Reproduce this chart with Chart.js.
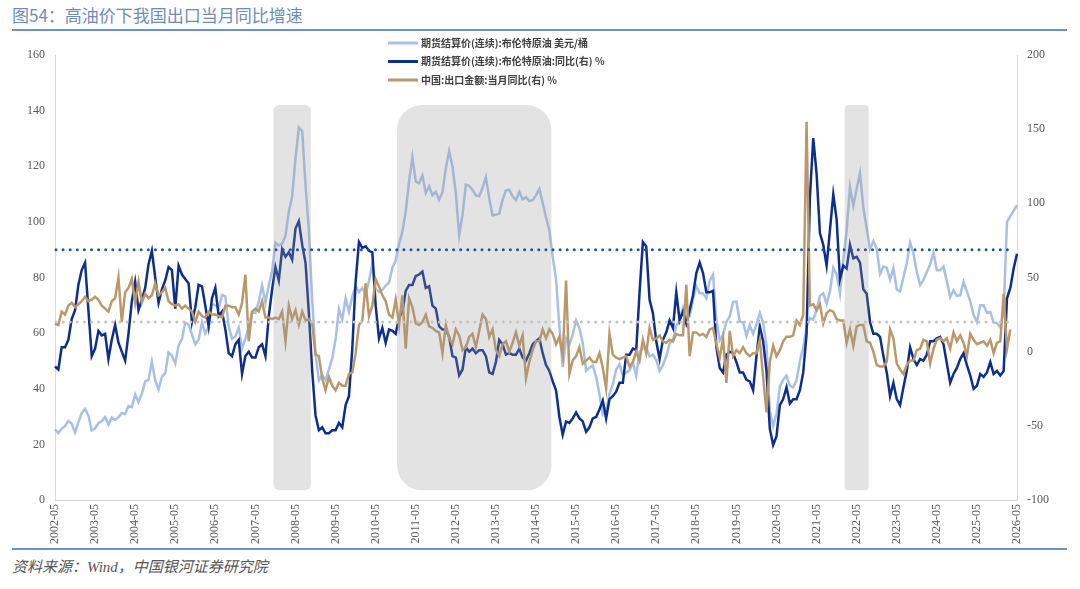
<!DOCTYPE html>
<html>
<head>
<meta charset="utf-8">
<title>图54 高油价下我国出口当月同比增速</title>
<script src="https://cdn.jsdelivr.net/npm/chart.js@4.4.1/dist/chart.umd.min.js"></script>
<style>
    body { margin: 0; background: #fff; width: 1080px; height: 589px; position: relative; overflow: hidden; font-family: "Noto Sans CJK SC", sans-serif; }
    #title { position: absolute; left: 12px; top: 4px; font-size: 17px; line-height: 22px; color: #6f8bbf; }
    .rule { position: absolute; left: 12px; width: 1055px; height: 2px; background: #6f8fc8; }
    #chartBox { position: absolute; left: 0; top: 35px; width: 1080px; height: 513px; }
    #source { position: absolute; left: 12px; top: 556px; font-size: 15px; line-height: 22px; font-style: italic; color: #555; font-family: "Liberation Serif", "Noto Sans CJK SC", serif; }
</style>
</head>
<body>
<div id="title">图54：高油价下我国出口当月同比增速</div>
<div class="rule" style="top:29px"></div>
<div id="chartBox"><canvas id="canvas" width="1080" height="513"></canvas></div>
<div class="rule" style="top:548px"></div>
<div id="source">资料来源：Wind，中国银河证券研究院</div>

<script>
// monthly categories 2002-05 .. 2026-05
var firstYear = 2002, firstMonth = 5, monthCount = 289;
var months = [];
for (var k = 0; k < monthCount; k++) {
    var m = firstMonth - 1 + k;
    var mm = m % 12 + 1;
    months.push((firstYear + Math.floor(m / 12)) + '-' + (mm < 10 ? '0' + mm : mm));
}

var seriesNames = [
    '期货结算价(连续):布伦特原油 美元/桶',
    '期货结算价(连续):布伦特原油:同比(右) %',
    '中国:出口金额:当月同比(右) %'
];

// 布伦特原油 美元/桶 (left axis)
var brentPrice = [
    25.4, 24.1, 25.7, 26.6, 28.4, 27.5, 24.3, 28.0,                       // 2002 May-Dec
    31.2, 32.8, 30.3, 25.0, 25.8, 27.6, 28.4, 29.8, 27.1, 29.6, 28.8, 29.8, // 2003
    31.3, 30.9, 33.8, 33.4, 37.9, 35.2, 38.2, 42.7, 43.2, 49.8, 43.1, 39.7, // 2004
    44.3, 45.6, 53.1, 51.9, 49.0, 55.6, 57.9, 63.8, 63.0, 59.5, 56.0, 57.6, // 2005
    63.9, 59.9, 62.3, 70.4, 70.0, 69.0, 73.7, 73.2, 62.5, 58.0, 58.8, 62.0, // 2006
    54.5, 58.0, 62.1, 67.5, 67.2, 71.3, 77.2, 70.8, 77.2, 82.3, 92.5, 91.5, // 2007
    92.2, 95.0, 103.6, 109.1, 122.8, 133.9, 132.7, 113.2, 97.1, 71.9, 52.5, 43.0, // 2008
    44.9, 43.2, 47.0, 50.9, 57.9, 68.6, 64.9, 72.5, 67.7, 73.2, 77.0, 74.7, // 2009
    76.2, 73.8, 78.8, 84.8, 75.9, 74.8, 75.6, 77.1, 78.2, 83.5, 86.1, 92.0, // 2010
    96.5, 103.7, 114.6, 123.3, 114.5, 113.9, 116.7, 110.4, 112.8, 109.6, 110.8, 107.9, // 2011
    110.7, 119.3, 125.5, 119.8, 110.3, 95.2, 102.6, 113.4, 113.0, 111.5, 109.5, 109.2, // 2012
    112.3, 116.1, 108.5, 102.3, 102.6, 102.9, 107.9, 111.3, 111.6, 109.1, 107.8, 110.8, // 2013
    108.1, 108.9, 107.5, 107.8, 109.5, 111.8, 106.8, 101.6, 97.1, 87.4, 79.4, 62.3, // 2014
    47.8, 58.1, 55.9, 59.5, 64.6, 61.7, 56.5, 46.5, 47.6, 48.4, 44.3, 38.0, // 2015
    30.7, 32.2, 38.2, 41.6, 46.9, 48.8, 44.8, 45.8, 46.6, 49.5, 44.7, 53.3, // 2016
    54.6, 55.0, 51.6, 52.3, 50.3, 46.4, 48.5, 51.7, 56.2, 57.5, 62.7, 64.4, // 2017
    69.1, 65.3, 66.0, 72.1, 76.9, 74.4, 74.3, 72.5, 78.9, 81.0, 64.8, 57.4, // 2018
    59.4, 64.0, 66.1, 71.2, 71.3, 64.2, 63.9, 59.0, 62.8, 59.7, 63.2, 67.3, // 2019
    63.7, 55.7, 32.0, 26.6, 31.0, 40.8, 43.2, 44.7, 41.1, 40.5, 43.0, 49.9, // 2020
    54.8, 62.3, 65.4, 64.8, 68.3, 73.4, 74.3, 70.5, 74.9, 83.5, 81.1, 74.2, // 2021
    86.5, 97.0, 112.5, 105.8, 111.9, 117.5, 105.1, 97.7, 90.2, 93.1, 90.4, 81.3, // 2022
    83.9, 83.5, 79.2, 83.4, 75.7, 75.0, 80.1, 85.1, 92.6, 88.7, 82.0, 77.3, // 2023
    79.1, 82.0, 84.7, 89.0, 82.6, 82.6, 84.0, 78.6, 72.9, 75.4, 73.4, 73.6, // 2024
    78.4, 74.9, 71.5, 66.5, 64.0, 70.0, 70.0, 67.3, 67.6, 63.9, 63.6, 62.0, // 2025
    68.0, 100.0, 102.0, 104.0, 106.0                                      // 2026 Jan-May
];

// 布伦特原油 同比 % (right axis)
var brentYoY = [
    -10, -12, 3, 3, 8, 22, 28, 45,
    55, 60, 28, -3, 2, 14, 11, 12, -5, 8, 18, 6,
    0, -6, 12, 34, 47, 28, 35, 43, 59, 68, 50, 33,
    42, 48, 57, 55, 29, 58, 52, 49, 46, 20, 30, 45,
    44, 31, 17, 36, 43, 24, 27, 15, -1, -3, 5, 8,
    -15, -3, 0, -4, -4, 3, 5, -3, 24, 42, 57, 48,
    69, 64, 67, 62, 83, 88, 72, 60, 26, -13, -43, -53,
    -51, -55, -55, -53, -53, -48, -51, -36, -30, 2, 47, 74,
    70, 71, 68, 67, 31, 9, 16, 6, 15, 14, 12, 23,
    27, 41, 45, 45, 51, 52, 54, 43, 44, 31, 29, 17,
    15, 15, 10, -3, -4, -16, -12, 3, 0, 2, -1, 1,
    1, -3, -14, -15, -7, 8, 5, -2, -1, -2, -2, 2,
    -4, -6, -1, 5, 7, 9, -1, -9, -13, -20, -26, -44,
    -56, -47, -48, -45, -41, -45, -47, -54, -51, -45, -44, -39,
    -33, -45, -32, -30, -27, -21, -21, -2, -2, 2, 1, 40,
    74, 71, 35, 26, 7, -5, 8, 13, 21, 16, 40, 21,
    27, 19, 28, 38, 53, 60, 53, 40, 40, 41, 3, -11,
    -14, -2, 0, -1, -7, -14, -14, -19, -20, -26, -3, 17,
    7, -13, -52, -63, -57, -36, -32, -24, -35, -32, -32, -26,
    -14, 12, 104, 144, 120, 80, 72, 58, 82, 106, 89, 49,
    58, 56, 72, 63, 64, 60, 42, 39, 20, 12, 12, 10,
    -3, -14, -30, -21, -32, -36, -24, -13, 3, -5, -9, -5,
    -6, -2, 7, 7, 9, 10, 5, -8, -21, -15, -11, -5,
    -1, -9, -16, -25, -23, -15, -17, -14, -7, -15, -13, -16,
    -13, 36, 43, 56, 66
];

// 中国出口金额 当月同比 % (right axis)
var exportYoY = [
    19, 18, 27, 25, 31, 33, 30, 32,
    34, 37, 34, 35, 37, 35, 31, 29, 27, 34, 36, 50,
    20, 40, 43, 49, 33, 47, 33, 39, 36, 38, 46, 38,
    40, 43, 34, 32, 31, 32, 29, 31, 29, 27, 20, 27,
    24, 23, 27, 25, 25, 24, 23, 31, 31, 30, 30, 25,
    33, 52, 7, 27, 29, 27, 34, 23, 23, 22, 23, 22,
    27, 7, 31, 22, 28, 18, 27, 21, 22, 19, -2, -3,
    -18, -26, -17, -23, -26, -21, -23, -23, -15, -14, -1, 18,
    21, 46, 24, 31, 49, 44, 38, 34, 25, 23, 35, 18,
    38, 2, 36, 30, 19, 18, 20, 25, 17, 16, 14, 13,
    -1, 18, 9, 5, 15, 11, 1, 3, 10, 12, 3, 14,
    25, 22, 10, 15, 1, -3, 5, 7, 0, 6, 13, 4,
    11, -18, -7, 1, 7, 7, 15, 9, 15, 12, 5, 10,
    -3, 48, -15, -6, -3, 3, -8, -6, -4, -7, -7, -1,
    -11, -25, 12, -2, -4, -5, -4, -3, -10, -7, 0, -6,
    8, -1, 16, 8, 9, 11, 7, 6, 8, 7, 12, 11,
    11, 45, -3, 13, 13, 11, 12, 10, 15, 16, 5, -4,
    9, -21, 14, -3, 1, -1, 3, -1, -3, -1, -1, 8,
    -17, -41, -7, 4, -3, 1, 7, 10, 10, 11, 21, 18,
    25, 155, 31, 32, 28, 32, 19, 26, 28, 27, 22, 21,
    21, 6, 15, 4, 17, 18, 18, 7, 6, 0, -9, -10,
    -10, -7, 15, 9, -8, -12, -15, -9, -6, -6, 1, 2,
    8, 7, -8, 2, 8, 9, 7, 9, 2, 13, 7, 11,
    6, -3, 12, 8, 5, 6, 7, 4, 8, -1, 6, 7,
    39, 2, 15, null, null
];

// 高油价区间（阴影）
var highOilPeriods = [['2007-11', '2008-09'], ['2010-12', '2014-09'], ['2022-02', '2022-08']];
// 参考线：油价90美元（左轴），出口增速20%（右轴）
var oilLine = 90, exportLine = 20, refLineEnd = '2026-03';

var colors = ['#a9c0e6', '#0e2e8c', '#ba986a'];

var shadePlugin = {
    id: 'shade',
    afterDatasetsDraw: function (chart) {
        var ctx = chart.ctx, xs = chart.scales.x, ys = chart.scales.y;
        var top = ys.getPixelForValue(142), bottom = ys.getPixelForValue(3.5);
        ctx.save();
        ctx.fillStyle = 'rgba(150,150,150,0.27)';
        highOilPeriods.forEach(function (p) {
            var left = xs.getPixelForValue(months.indexOf(p[0])) - 2;
            var right = xs.getPixelForValue(months.indexOf(p[1])) + 2;
            var r = Math.min(25, (right - left) * 0.16);
            ctx.beginPath();
            ctx.roundRect(left, top, right - left, bottom - top, r);
            ctx.fill();
        });
        ctx.restore();
    }
};

function dottedLine(ctx, x0, x1, y, color) {
    ctx.save();
    ctx.strokeStyle = color;
    ctx.lineWidth = 3;
    ctx.lineCap = 'round';
    ctx.setLineDash([0, 7.1]);
    ctx.beginPath();
    ctx.moveTo(x0, y);
    ctx.lineTo(x1, y);
    ctx.stroke();
    ctx.restore();
}

var refPlugin = {
    id: 'refLines',
    afterDatasetsDraw: function (chart) {
        var xs = chart.scales.x;
        var x0 = xs.getPixelForValue(0) + 1, x1 = xs.getPixelForValue(months.indexOf(refLineEnd));
        dottedLine(chart.ctx, x0, x1, chart.scales.y1.getPixelForValue(exportLine), '#c4c4c4');
        dottedLine(chart.ctx, x0, x1, chart.scales.y.getPixelForValue(oilLine), '#245590');
    }
};

// legend drawn inside the plot, stacked
var legendPlugin = {
    id: 'stackLegend',
    afterDraw: function (chart) {
        var ctx = chart.ctx;
        var rows = [8, 26.5, 45];
        ctx.save();
        ctx.font = 'bold 10px "Noto Sans CJK SC"';
        ctx.textBaseline = 'middle';
        chart.data.datasets.forEach(function (ds, i) {
            ctx.strokeStyle = ds.borderColor;
            ctx.lineWidth = 3;
            ctx.beginPath();
            ctx.moveTo(388, rows[i]);
            ctx.lineTo(418, rows[i]);
            ctx.stroke();
            ctx.fillStyle = '#404040';
            ctx.fillText(ds.label, 421, rows[i]);
        });
        ctx.restore();
    }
};

var tickFont = { family: '"Liberation Serif", serif', size: 12 };

var lineChart = new Chart(document.getElementById('canvas'), {
    type: 'line',
    data: {
        labels: months,
        datasets: [
            { label: seriesNames[0], data: brentPrice, yAxisID: 'y', borderColor: colors[0], order: 3 },
            { label: seriesNames[1], data: brentYoY, yAxisID: 'y1', borderColor: colors[1], order: 2 },
            { label: seriesNames[2], data: exportYoY, yAxisID: 'y1', borderColor: colors[2], order: 1 }
        ]
    },
    options: {
        responsive: false,
        animation: false,
        layout: { padding: { top: 20, left: 0, right: 0, bottom: 0 } },
        elements: {
            line: { borderWidth: 2.5, tension: 0, fill: false },
            point: { radius: 0 }
        },
        plugins: { legend: { display: false }, tooltip: { enabled: false } },
        scales: {
            x: {
                grid: { display: false, drawTicks: false },
                border: { display: true, color: '#d9d9d9' },
                ticks: {
                    autoSkip: false, maxRotation: 90, minRotation: 90, padding: 4,
                    color: '#595959', font: tickFont,
                    callback: function (value, index) {
                        return index % 12 === 0 ? this.getLabelForValue(value) : null;
                    }
                },
                afterFit: function (s) { s.height = 48; }
            },
            y: {
                position: 'left', min: 0, max: 160,
                grid: { display: false, drawTicks: false },
                border: { display: true, color: '#d9d9d9' },
                ticks: { stepSize: 20, padding: 10, color: '#595959', font: tickFont },
                afterFit: function (s) { s.width = 55; }
            },
            y1: {
                position: 'right', min: -100, max: 200,
                grid: { display: false, drawTicks: false },
                border: { display: true, color: '#d9d9d9' },
                ticks: { stepSize: 50, padding: 10, color: '#595959', font: tickFont },
                afterFit: function (s) { s.width = 63; }
            }
        }
    },
    plugins: [shadePlugin, refPlugin, legendPlugin]
});
</script>
</body>
</html>
